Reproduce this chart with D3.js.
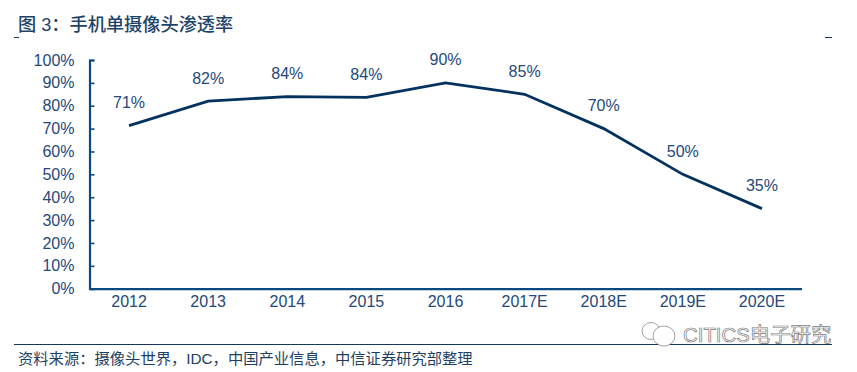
<!DOCTYPE html>
<html><head><meta charset="utf-8">
<script src="https://cdn.jsdelivr.net/npm/d3@7/dist/d3.min.js"></script>
<style>html,body{margin:0;padding:0;background:#fff}svg{display:block}</style></head>
<body><svg id="c" width="857" height="372"></svg>
<script>
const categories=["2012","2013","2014","2015","2016","2017E","2018E","2019E","2020E"];
const values=[71.3,82,84,83.7,90,85,70,50,35];
const valueLabels=["71%","82%","84%","84%","90%","85%","70%","50%","35%"];
const yTicks=[0,10,20,30,40,50,60,70,80,90,100];
const titleText="图 3：手机单摄像头渗透率";
const sourceText="资料来源：摄像头世界，IDC，中国产业信息，中信证券研究部整理";
const watermarkText="CITICS电子研究";

const svg=d3.select("#c");
const latin='"Liberation Sans",Arial,sans-serif';
const cjk='"Liberation Sans","Noto Sans CJK SC",sans-serif';
const textColor="#23497a",axisColor="#0b4a80",lineColor="#04325f",ruleColor="#16365c";
const x=d3.scaleBand().domain(categories).range([89.5,801.5]);
const y=d3.scaleLinear().domain([0,100]).range([288.7,60]);

// Title and rules
svg.append("text").attr("x",18).attr("y",31).attr("font-family",cjk).attr("font-size",18.2).attr("font-weight",500)
  .attr("fill","#1d4468").text(titleText);
svg.append("line").attr("x1",14).attr("x2",19).attr("y1",37.5).attr("y2",37.5).attr("stroke",ruleColor);
svg.append("line").attr("x1",825).attr("x2",832).attr("y1",37.5).attr("y2",37.5).attr("stroke",ruleColor);
svg.append("line").attr("x1",14).attr("x2",832).attr("y1",344.5).attr("y2",344.5).attr("stroke",ruleColor);
svg.append("text").attr("x",18).attr("y",364).attr("font-family",cjk).attr("font-size",15.3)
  .attr("fill","#1d3f63").text(sourceText);

// Axes
const yAxis=d3.axisLeft(y).tickValues(yTicks).tickFormat(d=>d+"%").tickSize(-5).tickPadding(15);
const gy=svg.append("g").attr("transform","translate(89.5,0)").call(yAxis);
gy.select(".domain").attr("stroke",axisColor).attr("stroke-width",2.2);
gy.selectAll(".tick line").attr("stroke",axisColor).attr("stroke-width",1.6);
gy.selectAll("text").attr("fill",textColor).attr("font-family",latin).attr("font-size",16);

const xAxis=d3.axisBottom(x).tickSize(0).tickPadding(6.5);
const gx=svg.append("g").attr("transform","translate(0,288.7)").call(xAxis);
gx.select(".domain").attr("stroke",axisColor).attr("stroke-width",2.2);
gx.selectAll("text").attr("fill",textColor).attr("font-family",latin).attr("font-size",16);

// Line
const cx=c=>x(c)+x.bandwidth()/2;
const line=d3.line().x((d,i)=>cx(categories[i])).y(d=>y(d));
svg.append("path").datum(values).attr("d",line).attr("fill","none")
  .attr("stroke",lineColor).attr("stroke-width",2.8);

// Value labels
svg.append("g").selectAll("text").data(values).join("text")
  .attr("x",(d,i)=>cx(categories[i])).attr("y",d=>y(d)-17.5)
  .attr("text-anchor","middle").attr("font-family",latin).attr("font-size",16)
  .attr("fill",textColor).text((d,i)=>valueLabels[i]);

// Watermark
const wm=svg.append("g").attr("fill","#fff").attr("stroke","#8b8b8b").attr("stroke-width",0.8);
wm.append("ellipse").attr("cx",651).attr("cy",331).attr("rx",9).attr("ry",8.5);
wm.append("ellipse").attr("cx",664).attr("cy",336).attr("rx",11).attr("ry",10);
svg.append("text").attr("x",683).attr("y",342).attr("font-family",cjk).attr("font-size",20.4)
  .attr("fill","#fff").attr("stroke","#7a7a7a").attr("stroke-width",0.7).text(watermarkText);
</script></body></html>
